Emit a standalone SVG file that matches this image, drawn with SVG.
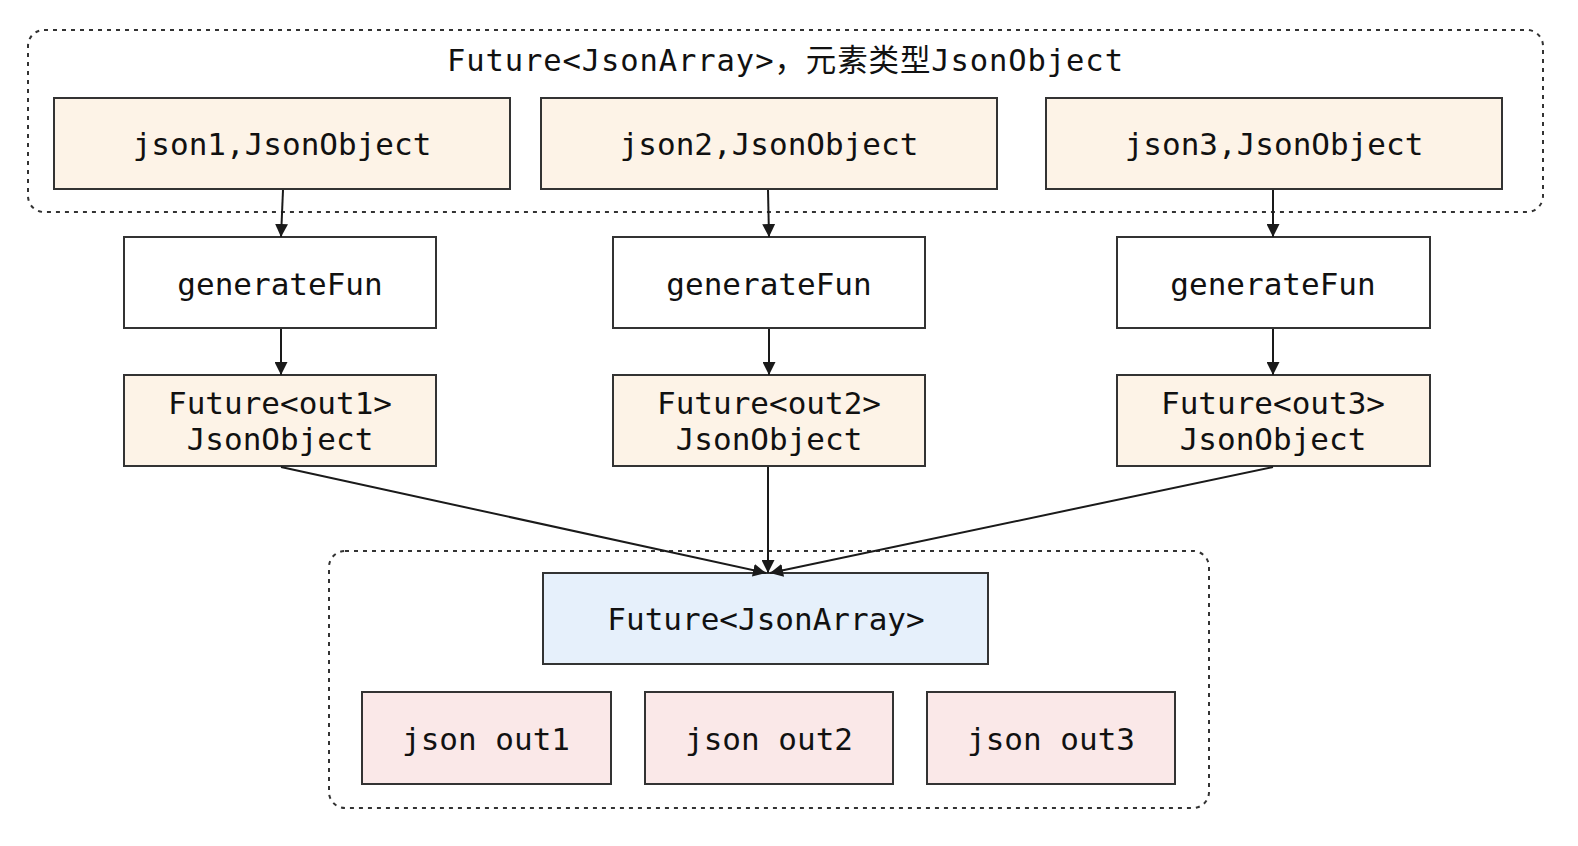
<svg xmlns="http://www.w3.org/2000/svg" width="1578" height="846" viewBox="0 0 1578 846">
<defs>
<style>
.grp{fill:none;stroke:#333;stroke-width:2;stroke-dasharray:4 5}
.box{stroke:#333;stroke-width:2}
.cream{fill:#fdf3e7}
.white{fill:#fff}
.blue{fill:#e6f0fb}
.pink{fill:#fae8e8}
text{font-family:"DejaVu Sans Mono","Liberation Mono","Noto Sans CJK SC",monospace;font-size:31px;fill:#111;text-anchor:middle}
.title{font-family:"DejaVu Sans Mono","Noto Sans CJK SC",monospace;font-size:30.5px}
.edge{fill:none;stroke:#1a1a1a;stroke-width:2}
</style>
<marker id="arr" viewBox="0 0 10 10" refX="10" refY="5" markerWidth="13" markerHeight="13" markerUnits="userSpaceOnUse" orient="auto">
<path d="M0,0 L10,5 L0,10 z" fill="#1a1a1a"/>
</marker>
</defs>
<rect width="1578" height="846" fill="#fff"/>
<g id="group-top">
<rect class="grp" x="28" y="30" width="1515" height="182" rx="16"/>
<text class="title" x="785" y="71" textLength="676" lengthAdjust="spacing">Future&lt;JsonArray&gt;，元素类型JsonObject</text>
</g>
<g id="group-bottom">
<rect class="grp" x="329" y="551" width="880" height="257" rx="16"/>
</g>
<g id="json1"><rect class="box cream" x="54" y="98" width="456" height="91"/><text x="282" y="155">json1,JsonObject</text></g>
<g id="json2"><rect class="box cream" x="541" y="98" width="456" height="91"/><text x="769" y="155">json2,JsonObject</text></g>
<g id="json3"><rect class="box cream" x="1046" y="98" width="456" height="91"/><text x="1274" y="155">json3,JsonObject</text></g>
<g id="gen1"><rect class="box white" x="124" y="237" width="312" height="91"/><text x="280" y="295">generateFun</text></g>
<g id="gen2"><rect class="box white" x="613" y="237" width="312" height="91"/><text x="769" y="295">generateFun</text></g>
<g id="gen3"><rect class="box white" x="1117" y="237" width="313" height="91"/><text x="1273" y="295">generateFun</text></g>
<g id="out1"><rect class="box cream" x="124" y="375" width="312" height="91"/><text x="280" y="414">Future&lt;out1&gt;</text><text x="280" y="450">JsonObject</text></g>
<g id="out2"><rect class="box cream" x="613" y="375" width="312" height="91"/><text x="769" y="414">Future&lt;out2&gt;</text><text x="769" y="450">JsonObject</text></g>
<g id="out3"><rect class="box cream" x="1117" y="375" width="313" height="91"/><text x="1273" y="414">Future&lt;out3&gt;</text><text x="1273" y="450">JsonObject</text></g>
<g id="array"><rect class="box blue" x="543" y="573" width="445" height="91"/><text x="766" y="630">Future&lt;JsonArray&gt;</text></g>
<g id="jout1"><rect class="box pink" x="362" y="692" width="249" height="92"/><text x="486" y="750">json out1</text></g>
<g id="jout2"><rect class="box pink" x="645" y="692" width="248" height="92"/><text x="769" y="750">json out2</text></g>
<g id="jout3"><rect class="box pink" x="927" y="692" width="248" height="92"/><text x="1051" y="750">json out3</text></g>
<g id="connectors">
<path class="edge" marker-end="url(#arr)" d="M283,190 L281,237"/>
<path class="edge" marker-end="url(#arr)" d="M768,190 L769,237"/>
<path class="edge" marker-end="url(#arr)" d="M1273,190 L1273,237"/>
<path class="edge" marker-end="url(#arr)" d="M281,329 L281,375"/>
<path class="edge" marker-end="url(#arr)" d="M769,329 L769,375"/>
<path class="edge" marker-end="url(#arr)" d="M1273,329 L1273,375"/>
<path class="edge" marker-end="url(#arr)" d="M281,467 L766,573"/>
<path class="edge" marker-end="url(#arr)" d="M768,467 L768,573"/>
<path class="edge" marker-end="url(#arr)" d="M1273,467 L770,573"/>
</g>
</svg>
